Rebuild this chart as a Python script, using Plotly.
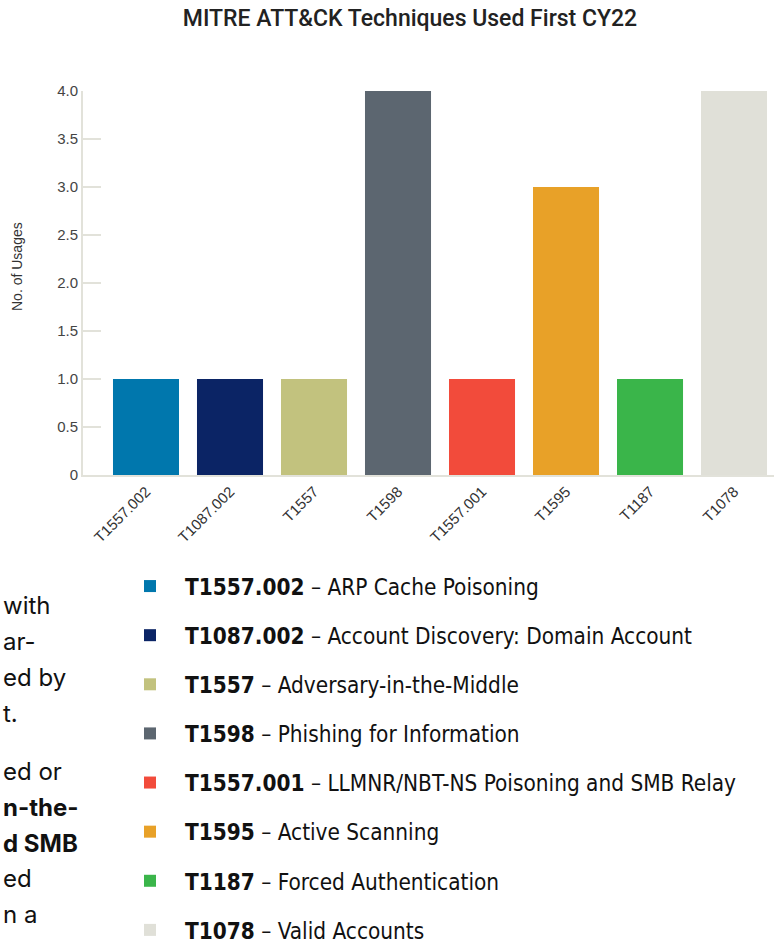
import plotly.graph_objects as go

categories = ["T1557.002", "T1087.002", "T1557", "T1598", "T1557.001", "T1595", "T1187", "T1078"]
values = [1, 1, 1, 4, 1, 3, 1, 4]
descriptions = [
    "ARP Cache Poisoning",
    "Account Discovery: Domain Account",
    "Adversary-in-the-Middle",
    "Phishing for Information",
    "LLMNR/NBT-NS Poisoning and SMB Relay",
    "Active Scanning",
    "Forced Authentication",
    "Valid Accounts",
]
colors = ["#0077AD", "#0B2465", "#C2C27E", "#5C6670", "#F24B3B", "#E8A128", "#3AB54A", "#E0E0D8"]
ytick_vals = [0, 0.5, 1, 1.5, 2, 2.5, 3, 3.5, 4]
ytick_text = ["0", "0.5", "1.0", "1.5", "2.0", "2.5", "3.0", "3.5", "4.0"]

# fragments of neighbouring body text (cut by the page edge); (text, bold)
side_lines = [("with", False), ("ar-", False), ("ed by", False), ("t.", False), (None, False),
              ("ed or", False), ("n-the-", True), ("d SMB", True), ("ed", False), ("n a", False)]

W, H = 774, 943
L, T, B, R = 83, 91, 468, 0
plot_w = W - L - R
plot_h = H - T - B

COND = "DejaVu Sans Condensed, DejaVu Sans, sans-serif"

fig = go.Figure()
for i, (c, v) in enumerate(zip(categories, values)):
    fig.add_trace(go.Bar(
        x=[c], y=[v],
        marker=dict(color=colors[i], line=dict(width=0)),
        name=f"<b>{c}</b> \u2013 {descriptions[i]}",
        legendgroup=f"g{i}",
        showlegend=True,
        hoverinfo="x+y",
    ))

def px_x(px):
    return (px - L) / plot_w

def px_y(py):
    return (H - B - py) / plot_h

annotations = [
    dict(text="No. of Usages", textangle=-90, xref="paper", yref="paper",
         x=px_x(17), y=px_y(267), xanchor="center", yanchor="middle", showarrow=False,
         font=dict(family="Liberation Sans, Arial, sans-serif", size=14, color="#333"))
]
py = 605
for txt, bold in side_lines:
    if txt is not None:
        annotations.append(dict(
            text=f"<b>{txt}</b>" if bold else txt, xref="paper", yref="paper",
            x=px_x(1), y=px_y(py), xanchor="left", yanchor="middle", showarrow=False,
            font=dict(family="Inter, Noto Sans, sans-serif", size=24, color="#111")))
        py += 36
    else:
        py += 22

fig.update_layout(
    width=W, height=H,
    margin=dict(l=L, r=R, t=T, b=B, pad=0, autoexpand=False),
    paper_bgcolor="white", plot_bgcolor="white",
    barmode="overlay", bargap=0.214,
    title=dict(text="MITRE ATT&CK Techniques Used First CY22", x=410 / W, xanchor="center",
               xref="container", yref="container", y=1 - 18 / H, yanchor="middle",
               font=dict(family="Roboto, sans-serif", size=23, color="#222", weight=500)),
    xaxis=dict(type="category", categoryorder="array", categoryarray=categories,
               range=[-0.75, 7.476], tickangle=-45, showline=True, linecolor="#E2E2DA",
               linewidth=2, ticks="", showgrid=False, zeroline=False,
               tickfont=dict(family="Liberation Sans, Arial, sans-serif", size=15, color="#333")),
    yaxis=dict(range=[0, 4], tickvals=ytick_vals, ticktext=ytick_text, showline=True,
               linecolor="#E2E2DA", linewidth=2, ticks="inside", ticklen=18, tickwidth=2,
               tickcolor="#E2E2DA", showgrid=False, zeroline=False,
               tickfont=dict(family="Liberation Sans, Arial, sans-serif", size=15, color="#444")),
    legend=dict(xref="container", yref="container", x=115 / W, y=1 - 565 / H,
                xanchor="left", yanchor="top", traceorder="grouped", tracegroupgap=17,
                itemwidth=60, bgcolor="rgba(0,0,0,0)", borderwidth=0,
                font=dict(family=COND, size=22.4, color="#111")),
    annotations=annotations,
    showlegend=True,
)

fig.write_html("out.html")
